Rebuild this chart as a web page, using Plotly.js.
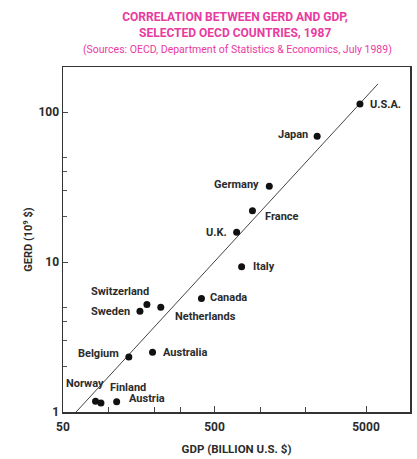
<!DOCTYPE html>
<html>
<head>
<meta charset="utf-8">
<script src="https://cdn.plot.ly/plotly-3.0.1.min.js"></script>
<style>
html,body{margin:0;padding:0;background:#fff;}
#chart{width:417px;height:459px;}
</style>
</head>
<body>
<div id="chart"></div>
<script>
// ---- Data (GDP in billion US$, GERD in 10^9 $), 1987 ----
var countries = ["U.S.A.", "Japan", "Germany", "France", "U.K.", "Italy", "Canada",
                 "Switzerland", "Sweden", "Netherlands", "Belgium", "Australia",
                 "Norway", "Finland", "Austria"];
var gdp  = [4560, 2380, 1150, 890, 700, 755, 410, 179, 161, 221, 136, 195, 82, 89, 113];
var gerd = [113, 69, 32, 22, 15.8, 9.3, 5.7, 5.2, 4.7, 5.0, 2.33, 2.5, 1.18, 1.15, 1.17];

// regression line end points
var fitX = [61, 6000];
var fitY = [1, 154];

var xTickVals = [50, 500, 5000];
var xTickText = ["50", "500", "5000"];
var xMinorVals = [100, 200, 300, 1000, 2000];
var yTickVals = [1, 10, 100];
var yTickText = ["1", "10", "100"];
var yMinorVals = [2, 3, 4, 5, 20, 30, 40, 50];

var titleLine1 = "CORRELATION BETWEEN GERD AND GDP,";
var titleLine2 = "SELECTED OECD COUNTRIES, 1987";
var sourceLine = "(Sources: OECD, Department of Statistics & Economics, July 1989)";
var xTitle = "GDP (BILLION U.S. $)";
var yTitle = "GERD (10<sup>9</sup> $)";

// label placement (layout only)
var labelPlace = {
  "U.S.A.":      {a: "left",  dx: 8,   dy: 0},
  "Japan":       {a: "right", dx: -7,  dy: 2},
  "Germany":     {a: "right", dx: -8,  dy: 2},
  "France":      {a: "left",  dx: 11,  dy: -6},
  "U.K.":        {a: "right", dx: -8,  dy: 0},
  "Italy":       {a: "left",  dx: 9,   dy: 0},
  "Canada":      {a: "left",  dx: 7,   dy: 1},
  "Switzerland": {a: "right", dx: 4,   dy: 13},
  "Sweden":      {a: "right", dx: -8,  dy: 0},
  "Netherlands": {a: "left",  dx: 12,  dy: -9},
  "Belgium":     {a: "right", dx: -8,  dy: 3},
  "Australia":   {a: "left",  dx: 8,   dy: 0},
  "Norway":      {a: "right", dx: 10,  dy: 18},
  "Finland":     {a: "left",  dx: 7,   dy: 15},
  "Austria":     {a: "left",  dx: 10,  dy: 3}
};

var FONT = "Roboto, 'Liberation Sans', sans-serif";
var INK = "#2b2b2b";
var PINK = "#e93a9f";

var traces = [
  {
    x: fitX, y: fitY, mode: "lines", type: "scatter",
    line: {color: "#444", width: 1}, hoverinfo: "skip", showlegend: false
  },
  {
    x: gdp, y: gerd, mode: "markers", type: "scatter",
    marker: {color: "#111", size: 7}, text: countries, showlegend: false
  }
];

var annotations = countries.map(function (c, i) {
  var p = labelPlace[c];
  return {
    x: Math.log10(gdp[i]), y: Math.log10(gerd[i]), xref: "x", yref: "y",
    text: c, showarrow: false, xanchor: p.a, yanchor: "middle",
    xshift: p.dx, yshift: p.dy,
    font: {family: FONT, size: 11, color: INK, weight: "bold"}
  };
});

function py(p) { return 1 + (67 - p) / 345; }
var cx = (235 - 63) / 347;

annotations.push({
  xref: "paper", yref: "paper", x: cx, y: py(33),
  text: titleLine2, showarrow: false, xanchor: "center", yanchor: "middle",
  font: {family: FONT, size: 12, color: PINK, weight: "bold"}
});
annotations.push({
  xref: "paper", yref: "paper", x: (237 - 63) / 347, y: py(49),
  text: sourceLine, showarrow: false, xanchor: "center", yanchor: "middle",
  font: {family: FONT, size: 10.5, color: PINK}
});

var layout = {
  width: 417, height: 459,
  paper_bgcolor: "#fff", plot_bgcolor: "#fff",
  margin: {l: 63, r: 7, t: 67, b: 47},
  title: {
    text: titleLine1,
    x: 235 / 417, xanchor: "center", xref: "container",
    y: 1 - 17 / 459, yanchor: "middle", yref: "container",
    font: {family: FONT, size: 12, color: PINK, weight: "bold"}
  },
  xaxis: {
    type: "log", range: [Math.log10(50), Math.log10(50) + 347 / 151.5],
    tickmode: "array", tickvals: xTickVals, ticktext: xTickText,
    ticks: "inside", ticklen: 6, tickcolor: "#444", tickwidth: 1,
    ticklabelstandoff: 3,
    minor: {tickmode: "array", tickvals: xMinorVals, ticks: "inside", ticklen: 5, tickcolor: "#444"},
    showgrid: false, zeroline: false,
    showline: true, linecolor: "#333", linewidth: 1.5, mirror: true,
    tickfont: {family: FONT, size: 12, color: INK, weight: "bold"},
    title: {text: xTitle, font: {family: FONT, size: 11.5, color: INK, weight: "bold"}, standoff: 12}
  },
  yaxis: {
    type: "log", range: [0, 345 / 150],
    tickmode: "array", tickvals: yTickVals, ticktext: yTickText,
    ticks: "inside", ticklen: 5, tickcolor: "#444", tickwidth: 1,
    minor: {tickmode: "array", tickvals: yMinorVals, ticks: "inside", ticklen: 4, tickcolor: "#555"},
    showgrid: false, zeroline: false,
    showline: true, linecolor: "#333", linewidth: 1.5, mirror: true,
    tickfont: {family: FONT, size: 12, color: INK, weight: "bold"},
    title: {text: yTitle, font: {family: FONT, size: 11, color: INK, weight: "bold"}, standoff: 3}
  },
  annotations: annotations,
  showlegend: false
};

Plotly.newPlot("chart", traces, layout, {displayModeBar: false, staticPlot: true});
</script>
</body>
</html>
